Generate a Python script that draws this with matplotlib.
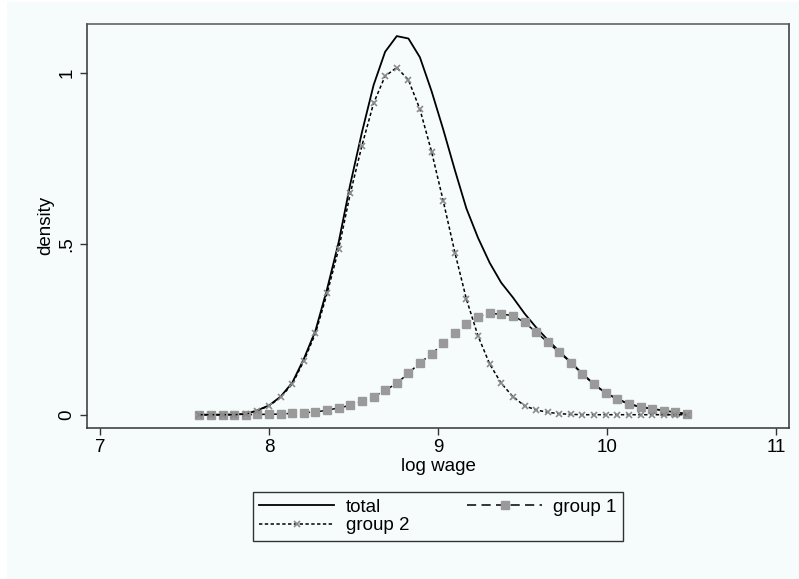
import matplotlib
matplotlib.use("Agg")
import matplotlib.pyplot as plt
from matplotlib.patches import Rectangle

# evaluation grid (log wage)
log_wage = [7.588, 7.657, 7.725, 7.794, 7.863, 7.931, 8.000, 8.069, 8.138, 8.206,
            8.275, 8.344, 8.412, 8.481, 8.550, 8.619, 8.687, 8.756, 8.825, 8.893,
            8.962, 9.031, 9.100, 9.168, 9.237, 9.306, 9.374, 9.443, 9.512, 9.581,
            9.649, 9.718, 9.787, 9.855, 9.924, 9.993, 10.062, 10.130, 10.199, 10.268,
            10.337, 10.405, 10.474]

total = [0.000, 0.000, 0.000, 0.001, 0.002, 0.013, 0.027, 0.053, 0.094, 0.163,
         0.246, 0.368, 0.504, 0.674, 0.826, 0.964, 1.061, 1.107, 1.100, 1.045,
         0.946, 0.834, 0.715, 0.603, 0.517, 0.444, 0.386, 0.343, 0.296, 0.255,
         0.219, 0.185, 0.153, 0.119, 0.089, 0.063, 0.046, 0.031, 0.023, 0.017,
         0.012, 0.007, 0.002]

group1 = [0.000, 0.000, 0.000, 0.000, 0.000, 0.001, 0.001, 0.002, 0.004, 0.006,
          0.008, 0.013, 0.020, 0.027, 0.039, 0.053, 0.071, 0.092, 0.121, 0.152,
          0.177, 0.209, 0.240, 0.265, 0.287, 0.296, 0.294, 0.290, 0.270, 0.241,
          0.212, 0.182, 0.152, 0.119, 0.089, 0.063, 0.046, 0.031, 0.023, 0.017,
          0.012, 0.007, 0.002]

group2 = [0.000, 0.000, 0.000, 0.000, 0.002, 0.012, 0.026, 0.051, 0.090, 0.157,
          0.238, 0.355, 0.484, 0.647, 0.787, 0.911, 0.990, 1.015, 0.979, 0.893,
          0.769, 0.625, 0.474, 0.338, 0.230, 0.148, 0.092, 0.053, 0.026, 0.014,
          0.007, 0.003, 0.001, 0.000, 0.000, 0.000, 0.000, 0.000, 0.000, 0.000,
          0.000, 0.000, 0.000]

xticks = [7, 8, 9, 10, 11]
yticks = [0, 0.5, 1]
ytick_labels = ["0", ".5", "1"]

plt.rcParams["font.family"] = ["Liberation Sans", "DejaVu Sans"]
bg = "#f6fcfc"
fs = 13.5

fig = plt.figure(figsize=(7.99, 5.79), dpi=100)
fig.patch.set_facecolor("white")
fig.patches.append(Rectangle((7 / 799, 0), 1, 577 / 579, transform=fig.transFigure,
                             facecolor=bg, edgecolor="none", zorder=-10))

ax = fig.add_axes([87 / 799, 151.5 / 579, 702 / 799, 403.5 / 579])
ax.set_facecolor(bg)

ax.plot(log_wage, total, color="black", lw=1.3, label="total")
ax.plot(log_wage, group1, color="black", lw=1.1, dashes=(6, 3.5),
        marker="s", ms=6.3, mfc="#9a9a9a", mec="#9a9a9a", label="group 1")
ax.plot(log_wage, group2, color="black", lw=1.1, dashes=(2.2, 1.6),
        marker="x", ms=4.3, mew=1.2, mec="#8a8a8a", label="group 2")

ax.set_xlim(6.923, 11.077)
ax.set_ylim(-0.0374, 1.1424)
ax.set_xticks(xticks)
ax.set_yticks(yticks)
ax.set_yticklabels(ytick_labels, rotation=90, va="center")
ax.tick_params(axis="both", labelsize=fs, length=5, width=1, color="#333333", pad=3.5)

for s in ax.spines.values():
    s.set_color("#333333")
    s.set_linewidth(1.1)
ax.spines["top"].set_color("#555555")

ax.set_xlabel("log wage", fontsize=fs, labelpad=1)
ax.set_ylabel("density", fontsize=fs, labelpad=3)

h, l = ax.get_legend_handles_labels()
order = [0, 2, 1]
leg = fig.legend([h[i] for i in order], [l[i] for i in order], ncol=2,
                 loc="center", bbox_to_anchor=(438 / 799, 1 - 516.5 / 579),
                 fontsize=fs, handlelength=4.0, handletextpad=0.6,
                 columnspacing=3.1, numpoints=1, frameon=True, fancybox=False,
                 borderpad=0.35, labelspacing=0.05, borderaxespad=0)
leg.get_frame().set_edgecolor("black")
leg.get_frame().set_linewidth(1.0)
leg.get_frame().set_facecolor(bg)

fig.savefig("out.png", dpi=100, facecolor=fig.get_facecolor())
